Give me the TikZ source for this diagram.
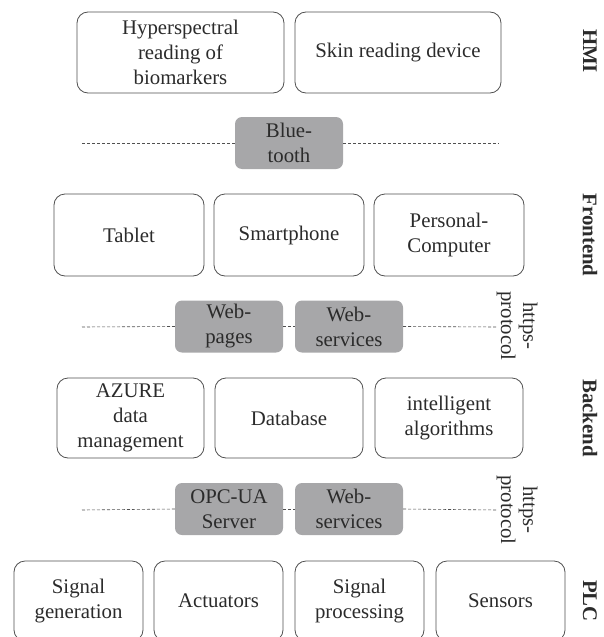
\documentclass[tikz,border=0pt]{standalone}
\usepackage{fontspec}
\setmainfont{Liberation Serif}
\definecolor{layerline}{HTML}{505050}
\definecolor{protofill}{HTML}{A7A7A9}
\definecolor{textgray}{HTML}{2B2B2B}
\tikzset{
  layerbox/.style={draw=layerline, rectangle, rounded corners=11pt, line width=0.8pt, align=center, text=textgray, inner sep=0pt, font=\fontsize{20.8pt}{25pt}\selectfont},
  protobox/.style={fill=protofill, rectangle, rounded corners=7pt, align=center, text=textgray, inner sep=0pt, minimum width=108pt, minimum height=52pt, font=\fontsize{20.8pt}{25pt}\selectfont},
  busline/.style={draw=layerline, line width=0.6pt, dash pattern=on 3pt off 2pt},
  layername/.style={rotate=-90, text=textgray, font=\fontsize{20.8pt}{25pt}\selectfont\bfseries},
  protoname/.style={rotate=-90, align=center, text=textgray, inner sep=0pt, font=\fontsize{20.8pt}{22pt}\selectfont},
}

\begin{document}
\begin{tikzpicture}[x=1pt, y=1pt]%
\useasboundingbox (0,0) rectangle (603,-637);%
% HMI layer
\node[layerbox, minimum width=207pt, minimum height=81pt] (hyper) at (180.5, -52.5) {Hyperspectral\\reading of\\biomarkers};%
\node[layerbox, minimum width=206pt, minimum height=81pt] (skin) at (398, -52.5) {Skin reading device};%
\node[layername] (hmi) at (590, -51) {HMI};%
% Bluetooth link
\node[protobox] (bluetooth) at (289, -143) {Blue-\\tooth};%
\coordinate (btleft) at (82, -143);%
\coordinate (btright) at (499, -143);%
\draw[busline] (btleft) -- (bluetooth.west);%
\draw[busline] (bluetooth.east) -- (btright);%
% Frontend layer
\node[layerbox, minimum width=150pt, minimum height=82pt] (tablet) at (129, -235) {Tablet};%
\node[layerbox, minimum width=150pt, minimum height=82pt] (smartphone) at (289, -235) {Smartphone};%
\node[layerbox, minimum width=150pt, minimum height=82pt] (pc) at (449, -235) {Personal-\\Computer};%
\node[layername] (frontend) at (590, -235) {Frontend};%
% https link frontend/backend
\node[protobox] (webpages) at (229, -326.5) {Web-\\pages};%
\node[protobox] (websvcup) at (349, -326.5) {Web-\\services};%
\coordinate (upleft) at (82, -327);%
\coordinate (upright) at (497, -327);%
\draw[busline] (upleft) -- (webpages.west);%
\draw[busline] (webpages.east) -- (websvcup.west);%
\draw[busline] (websvcup.east) -- (upright);%
\node[protoname] (httpsup) at (517, -326) {https-\\protocol};%
% Backend layer
\node[layerbox, minimum width=147pt, minimum height=80pt] (azure) at (130.5, -418) {AZURE\\data\\management};%
\node[layerbox, minimum width=148pt, minimum height=80pt] (database) at (289, -418) {Database};%
\node[layerbox, minimum width=148pt, minimum height=80pt] (algorithms) at (449, -418) {intelligent\\algorithms};%
\node[layername] (backend) at (590, -418) {Backend};%
% https link backend/PLC
\node[protobox] (opcua) at (229, -509) {OPC-UA\\Server};%
\node[protobox] (websvcdown) at (349, -509) {Web-\\services};%
\coordinate (downleft) at (82, -510);%
\coordinate (downright) at (497, -510);%
\draw[busline] (downleft) -- (opcua.west);%
\draw[busline] (opcua.east) -- (websvcdown.west);%
\draw[busline] (websvcdown.east) -- (downright);%
\node[protoname] (httpsdown) at (517, -510) {https-\\protocol};%
% PLC layer
\node[layerbox, minimum width=129pt, minimum height=80pt] (siggen) at (78.5, -601) {Signal\\generation};%
\node[layerbox, minimum width=129pt, minimum height=80pt] (actuators) at (218.5, -601) {Actuators};%
\node[layerbox, minimum width=129pt, minimum height=80pt] (sigproc) at (359.5, -601) {Signal\\processing};%
\node[layerbox, minimum width=129pt, minimum height=80pt] (sensors) at (500.5, -601) {Sensors};%
\node[layername] (plc) at (590, -601) {PLC};%
\end{tikzpicture}
\end{document}
